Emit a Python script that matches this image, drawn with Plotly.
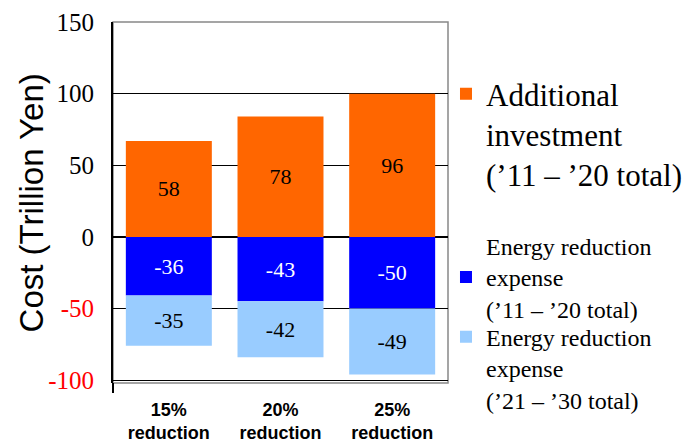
import plotly.graph_objects as go

categories = ["15%<br>reduction", "20%<br>reduction", "25%<br>reduction"]

# drawn bar heights
invest_heights = [67, 84, 100]
exp1120_heights = [-41, -45, -50]
exp2130_heights = [-35, -39, -46]

# labels printed on the bars
invest_labels = ["58", "78", "96"]
exp1120_labels = ["-36", "-43", "-50"]
exp2130_labels = ["-35", "-42", "-49"]

y_tickvals = [150, 100, 50, 0, -50, -100]
y_ticktext = ["150", "100", "50", "0",
              '<span style="color:#FF0000">-50</span>',
              '<span style="color:#FF0000">-100</span>']

SERIF = "Liberation Serif, Times New Roman, serif"
SANS = "Liberation Sans, Arial, sans-serif"

fig = go.Figure()
fig.add_trace(go.Bar(
    x=categories, y=invest_heights, text=invest_labels,
    name="Additional<br>investment<br>(’11 – ’20 total)",
    marker=dict(color="#FF6600", line=dict(width=0)),
    textposition="inside", insidetextanchor="middle", textangle=0,
    textfont=dict(family=SERIF, size=22, color="black"),
    insidetextfont=dict(family=SERIF, size=22, color="black"),
    legend="legend",
))
fig.add_trace(go.Bar(
    x=categories, y=exp1120_heights, text=exp1120_labels,
    name="Energy reduction<br>expense<br>(’11 – ’20 total)",
    marker=dict(color="#0000FF", line=dict(width=0)),
    textposition="inside", insidetextanchor="middle", textangle=0,
    textfont=dict(family=SERIF, size=22, color="white"),
    insidetextfont=dict(family=SERIF, size=22, color="white"),
    legend="legend2",
))
fig.add_trace(go.Bar(
    x=categories, y=exp2130_heights, text=exp2130_labels,
    name="Energy reduction<br>expense<br>(’21 – ’30 total)",
    marker=dict(color="#99CCFF", line=dict(width=0)),
    textposition="inside", insidetextanchor="middle", textangle=0,
    textfont=dict(family=SERIF, size=22, color="black"),
    insidetextfont=dict(family=SERIF, size=22, color="black"),
    legend="legend3",
))

fig.update_layout(
    width=695, height=444,
    font=dict(family=SERIF, color="black"),
    margin=dict(l=113, r=247, t=22, b=61, autoexpand=False),
    paper_bgcolor="white", plot_bgcolor="white",
    barmode="relative", bargap=0.23,
    showlegend=True,
    legend=dict(x=0.994, y=0.875, xanchor="left", yanchor="top", valign="top",
                font=dict(family=SERIF, size=31, color="black"),
                bgcolor="rgba(0,0,0,0)"),
    legend2=dict(x=0.994, y=0.441, xanchor="left", yanchor="top", valign="middle",
                 font=dict(family=SERIF, size=24, color="black"),
                 bgcolor="rgba(0,0,0,0)"),
    legend3=dict(x=0.994, y=0.189, xanchor="left", yanchor="top", valign="top",
                 font=dict(family=SERIF, size=24, color="black"),
                 bgcolor="rgba(0,0,0,0)"),
    xaxis=dict(
        automargin=False,
        showgrid=False, showline=False, ticks="",
        tickfont=dict(family=SANS, size=18, color="black", weight="bold"),
        tickangle=0, ticklabelstandoff=14,
    ),
    yaxis=dict(
        automargin=False,
        range=[-102, 150], tickvals=y_tickvals, ticktext=y_ticktext,
        showgrid=True, gridcolor="black", gridwidth=1,
        zeroline=True, zerolinecolor="black", zerolinewidth=1.5,
        showline=True, linecolor="black", linewidth=2,
        ticks="inside", ticklen=6, tickcolor="black",
        tickfont=dict(family=SERIF, size=25, color="black"),
        ticklabelstandoff=12,
    ),
    annotations=[dict(
        text="Cost (Trillion Yen)", textangle=-90, showarrow=False,
        xref="paper", yref="paper", x=-0.242, y=0.5, xanchor="center", yanchor="middle",
        font=dict(family=SANS, size=33, color="black"),
    )],
    shapes=[
        dict(type="rect", xref="paper", yref="paper", x0=0, y0=0, x1=1, y1=1,
             line=dict(color="#888888", width=1.5), layer="below"),
        dict(type="line", xref="paper", yref="paper", x0=0, x1=0, y0=0, y1=-0.028,
             line=dict(color="black", width=2)),
    ],
)

fig.write_html("out.html", config={"displayModeBar": False},
               post_script="document.body.style.margin='0';")
